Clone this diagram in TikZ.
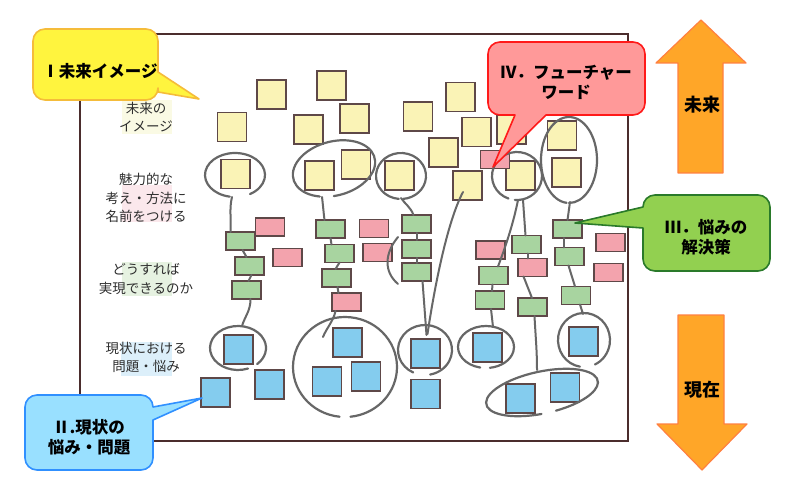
\documentclass[tikz,border=0pt]{standalone}
\usepackage{fontspec}
\setmainfont{Noto Sans CJK JP}
\usetikzlibrary{shapes.geometric}
\definecolor{boardc}{HTML}{4B2D2D}
\definecolor{notebd}{HTML}{5E4848}
\definecolor{yfill}{HTML}{FAF3B6}
\definecolor{gfill}{HTML}{A8D4A0}
\definecolor{pfill}{HTML}{F3A3AD}
\definecolor{bfill}{HTML}{84CCEE}
\definecolor{loopc}{HTML}{676767}
\definecolor{txt}{HTML}{2E2E2E}
\definecolor{ycallf}{HTML}{FFF43E}
\definecolor{ycalld}{HTML}{F5BC3A}
\definecolor{rcallf}{HTML}{FF9999}
\definecolor{rcalld}{HTML}{FF1A1A}
\definecolor{gcallf}{HTML}{92D050}
\definecolor{gcalld}{HTML}{2A7A2A}
\definecolor{bcallf}{HTML}{99E0FF}
\definecolor{bcalld}{HTML}{3090FF}
\definecolor{arrf}{HTML}{FFA628}
\definecolor{arrd}{HTML}{FF8040}
\definecolor{hly}{HTML}{FAFAE4}
\definecolor{hlp}{HTML}{FBE8EC}
\definecolor{hlg}{HTML}{E6F2E1}
\definecolor{hlb}{HTML}{DCEFFA}
\begin{document}
\begin{tikzpicture}[x=1pt,y=-1pt,
  note/.style={draw=notebd, line width=1.1pt, inner sep=0pt, minimum width=29, outer sep=0pt},
  ynote/.style={note, fill=yfill, minimum height=29},
  bnote/.style={note, fill=bfill, minimum height=29},
  gnote/.style={note, fill=gfill, minimum height=18},
  pnote/.style={note, fill=pfill, minimum height=18},
  loop/.style={ellipse, inner sep=0pt, outer sep=0pt},
  loopline/.style={draw=loopc, line width=2.2pt, line cap=round},
  conn/.style={draw=loopc, line width=2pt, line cap=round},
  lbl/.style={text=txt, font=\fontsize{13.5}{18.7}\selectfont, align=center, inner sep=0pt},
  calltext/.style={text=black, font=\bfseries\fontsize{16.5}{20}\selectfont, align=center, inner sep=0pt},
  arrtext/.style={text=black, font=\bfseries\fontsize{18}{20}\selectfont, inner sep=0pt}
]
\useasboundingbox (0,0) rectangle (800,486);
\fill[white] (0,0) rectangle (800,486);

% board
\draw[boardc, line width=2.2pt] (80,34) rectangle (628,441);

% label highlights
\fill[hly] (122,100) rectangle (172,134);
\fill[hlp] (122,185) rectangle (172,222);
\fill[hlg] (122,262) rectangle (172,296);
\fill[hlb] (121,342) rectangle (172,376);

% labels
\node[lbl] (l1) at (146,117) {未来の\\イメージ};
\node[lbl] (l2) at (146,198) {魅力的な\\考え・方法に\\名前をつける};
\node[lbl] (l3) at (146,279) {どうすれば\\実現できるのか};
\node[lbl] (l4) at (146,357.5) {現状における\\問題・悩み};

% yellow notes
\node[ynote] (y1) at (271.5,94.5) {};
\node[ynote] (y2) at (331.5,85.5) {};
\node[ynote] (y3) at (232,127) {};
\node[ynote] (y4) at (308.5,129.5) {};
\node[ynote] (y5) at (354.5,118.5) {};
\node[ynote] (y6) at (418,116.5) {};
\node[ynote] (y7) at (460.5,97) {};
\node[ynote] (y8) at (476.5,132) {};
\node[ynote] (y9) at (511.5,129.5) {};
\node[ynote] (y10) at (443.5,152.5) {};
\node[ynote] (y11) at (562,135.5) {};
\node[ynote] (y12) at (235.5,174) {};
\node[ynote] (y13) at (319.5,175.5) {};
\node[ynote] (y14) at (356,164.5) {};
\node[ynote] (y15) at (399.5,175.5) {};
\node[ynote] (y16) at (467.5,185.5) {};
\node[ynote] (y17) at (520.5,175.5) {};
\node[ynote] (y18) at (566.5,172.5) {};

% green notes
\node[gnote] (g1) at (240.5,241) {};
\node[gnote] (g2) at (249.5,266) {};
\node[gnote] (g3) at (246.5,290) {};
\node[gnote] (g4) at (330.5,229) {};
\node[gnote] (g5) at (339.5,253.5) {};
\node[gnote] (g6) at (336.5,278) {};
\node[gnote] (g7) at (416.5,224) {};
\node[gnote] (g8) at (416.5,249) {};
\node[gnote] (g9) at (416.5,272) {};
\node[gnote] (g10) at (493.5,275.5) {};
\node[gnote] (g11) at (490,300) {};
\node[gnote] (g12) at (526.5,244.5) {};
\node[gnote] (g13) at (532.5,307) {};
\node[gnote] (g14) at (567.5,229) {};
\node[gnote] (g15) at (569.5,256.5) {};
\node[gnote] (g16) at (576,295.5) {};

% pink notes
\node[pnote] (p1) at (270,227) {};
\node[pnote] (p2) at (287.5,257.5) {};
\node[pnote] (p3) at (346.5,302) {};
\node[pnote] (p4) at (374,228.5) {};
\node[pnote] (p5) at (377.5,252.5) {};
\node[pnote] (p6) at (490.5,250) {};
\node[pnote] (p7) at (532.5,267.5) {};
\node[pnote] (p8) at (610.5,242.5) {};
\node[pnote] (p9) at (608.5,272.5) {};
\node[pnote] (p10) at (495,159.5) {};

% blue notes
\node[bnote] (b1) at (238.5,349.5) {};
\node[bnote] (b2) at (269.5,384.5) {};
\node[bnote] (b3) at (215.5,392.5) {};
\node[bnote] (b4) at (347.5,342.5) {};
\node[bnote] (b5) at (327,381.5) {};
\node[bnote] (b6) at (366,376.5) {};
\node[bnote] (b7) at (425.5,353.5) {};
\node[bnote] (b8) at (425.5,394) {};
\node[bnote] (b9) at (487.5,347.5) {};
\node[bnote] (b10) at (520.5,398.5) {};
\node[bnote] (b11) at (565,387.5) {};
\node[bnote] (b12) at (583.5,341.5) {};

% loops (named ellipse nodes, outlines drawn as hand-drawn open arcs)
\node[loop, minimum width=60, minimum height=44] (c1) at (235,175) {};
\node[loop, minimum width=84, minimum height=54, rotate=15] (c2) at (334,168.5) {};
\node[loop, minimum width=50, minimum height=46] (c3) at (401,176) {};
\node[loop, minimum width=50, minimum height=48] (c4) at (517,176) {};
\node[loop, minimum width=56, minimum height=86] (c5) at (569,160) {};
\node[loop, minimum width=56, minimum height=44] (c6) at (238,348) {};
\node[loop, minimum width=104, minimum height=100] (c7) at (345,367) {};
\node[loop, minimum width=54, minimum height=50] (c8) at (425,350) {};
\node[loop, minimum width=56, minimum height=42] (c9) at (486,347) {};
\node[loop, minimum width=114, minimum height=42, rotate=12] (c10) at (542,392.5) {};
\node[loop, minimum width=52, minimum height=54] (c11) at (584,340) {};

\draw[loopline] ([shift={(100:30 and 22)}]c1.center) arc[start angle=100, end angle=420, x radius=30, y radius=22];
\draw[loopline, rotate around={15:(c2.center)}] ([shift={(120:42 and 27)}]c2.center) arc[start angle=120, end angle=460, x radius=42, y radius=27];
\draw[loopline] ([shift={(95:25 and 23)}]c3.center) arc[start angle=95, end angle=445, x radius=25, y radius=23];
\draw[loopline] ([shift={(110:25 and 24)}]c4.center) arc[start angle=110, end angle=455, x radius=25, y radius=24];
\draw[loopline] ([shift={(95:28 and 43)}]c5.center) arc[start angle=95, end angle=450, x radius=28, y radius=43];
\draw[loopline] ([shift={(69:28 and 22)}]c6.center) arc[start angle=69, end angle=407, x radius=28, y radius=22];
\draw[loopline] ([shift={(96:52 and 50)}]c7.center) arc[start angle=96, end angle=444, x radius=52, y radius=50];
\draw[loopline] ([shift={(116:27 and 25)}]c8.center) arc[start angle=116, end angle=439, x radius=27, y radius=25];
\draw[loopline] ([shift={(102:28 and 21)}]c9.center) arc[start angle=102, end angle=442, x radius=28, y radius=21];
\draw[loopline, rotate around={12:(c10.center)}] ([shift={(95:57 and 21)}]c10.center) arc[start angle=95, end angle=440, x radius=57, y radius=21];
\draw[loopline] ([shift={(99:26 and 27)}]c11.center) arc[start angle=99, end angle=425, x radius=26, y radius=27];

% connectors
\draw[conn] ([shift={(-3,22)}]c1.center) .. controls +(-3,12) and +(1,-12) .. ([xshift=-10]g1.north);
\draw[conn] ([xshift=2]g1.south) -- ([xshift=-3]g2.north);
\draw[conn] ([xshift=2]g2.south) -- ([xshift=2]g3.north);
\draw[conn] ([xshift=4]g3.south) .. controls +(0,12) and +(3,-10) .. ([xshift=4]c6.north);
\draw[conn] ([shift={(-12,28.5)}]c2.center) .. controls +(1,8) and +(-1,-8) .. ([xshift=-6]g4.north);
\draw[conn] (g4.south) -- ([xshift=-8]g5.north);
\draw[conn] (g5.south) -- ([xshift=-1]g6.north);
\draw[conn] ([xshift=1]g6.south) -- ([xshift=-8]p3.north);
\draw[conn] ([xshift=-11]p3.south) .. controls +(-2,10) and +(3,-8) .. ([shift={(-22,-30)}]c7.center);
\draw[conn] ([shift={(0,22)}]c3.center) .. controls +(4,6) and +(-3,-8) .. ([xshift=-3]g7.north);
\draw[conn] (g7.south) -- (g8.north);
\draw[conn] (g8.south) -- (g9.north);
\draw[conn] ([xshift=6]g9.south) -- ([shift={(1,-4)}]b7.north);
\draw[conn] ([shift={(-4.5,6.5)}]y16.center) .. controls (447,222) and (434,290) .. ([shift={(2,-5)}]b7.north);
\draw[conn] ([shift={(1,24)}]c4.center) .. controls (513,225) and (505,248) .. ([xshift=4.5]g10.north);
\draw[conn] ([shift={(6,24)}]c4.center) -- ([xshift=-1]g12.north);
\draw[conn] ([xshift=1]g12.south) -- ([xshift=-5]p7.north);
\draw[conn] ([xshift=-9]p7.south) -- ([xshift=-0.5]g13.north);
\draw[conn] ([xshift=2]g13.south) .. controls +(1,20) and +(0,-20) .. ([shift={(-5,-22.5)}]c10.center);
\draw[conn] ([xshift=-1]g10.south) -- ([xshift=2]g11.north);
\draw[conn] ([xshift=1]g11.south) -- ([shift={(7,-20)}]c9.center);
\draw[conn] ([shift={(1,42)}]c5.center) -- (g14.north);
\draw[conn] ([xshift=-4]g14.south) -- ([xshift=-6]g15.north);
\draw[conn] ([xshift=-1]g15.south) -- ([xshift=-1]g16.north);
\draw[conn] ([xshift=4]g16.south) -- ([shift={(-1,-26)}]c11.center);
\coordinate (k1) at (398,237);
\coordinate (k2) at (398,284);
\draw[conn] (k1) .. controls (384,254) and (384,272) .. (k2);

% callouts
\path[fill=ycallf, draw=ycalld, line width=1.6pt, line join=round]
  (45,29) -- (146,29) arc[start angle=-90, end angle=0, radius=12] -- (158,72) -- (199,99) -- (158,92)
  -- (158,88) arc[start angle=0, end angle=90, radius=12] -- (45,100)
  arc[start angle=90, end angle=180, radius=12] -- (33,41) arc[start angle=180, end angle=270, radius=12] -- cycle;
\node[calltext] (t1) at (100,71) {Ⅰ未来イメージ};

\path[fill=rcallf, draw=rcalld, line width=1.6pt, line join=round]
  (500,42) -- (633,42) arc[start angle=-90, end angle=0, radius=12] -- (645,103)
  arc[start angle=0, end angle=90, radius=12] -- (546,115) -- (493,167) -- (515,115) -- (500,115)
  arc[start angle=90, end angle=180, radius=12] -- (488,54) arc[start angle=180, end angle=270, radius=12] -- cycle;
\node[calltext] (t2) at (566,82.5) {Ⅳ．フューチャー\\ワード};

\path[fill=gcallf, draw=gcalld, line width=1.6pt, line join=round]
  (655,195) -- (758,195) arc[start angle=-90, end angle=0, radius=12] -- (770,259)
  arc[start angle=0, end angle=90, radius=12] -- (655,271) arc[start angle=90, end angle=180, radius=12]
  -- (643,228) -- (575,223) -- (643,207) arc[start angle=180, end angle=270, radius=12] -- cycle;
\node[calltext] (t3) at (706,237) {Ⅲ．悩みの\\解決策};

\path[fill=bcallf, draw=bcalld, line width=1.6pt, line join=round]
  (37,395) -- (141,395) arc[start angle=-90, end angle=0, radius=12] -- (153,407) -- (202,398) -- (153,420)
  -- (153,458) arc[start angle=0, end angle=90, radius=12] -- (37,470)
  arc[start angle=90, end angle=180, radius=12] -- (25,407) arc[start angle=180, end angle=270, radius=12] -- cycle;
\node[calltext] (t4) at (89,437) {Ⅱ.現状の\\悩み・問題};

% arrows
\path[fill=arrf, draw=arrd, line width=1.2pt, line join=round]
  (701,20) -- (746,63) -- (723,63) -- (723,173) -- (678,173) -- (678,63) -- (656,63) -- cycle;
\node[arrtext] (a1) at (702,105) {未来};
\path[fill=arrf, draw=arrd, line width=1.2pt, line join=round]
  (678,315) -- (724,315) -- (724,424) -- (747,424) -- (702,470) -- (657,424) -- (678,424) -- cycle;
\node[arrtext] (a2) at (702,390) {現在};
\end{tikzpicture}
\end{document}
